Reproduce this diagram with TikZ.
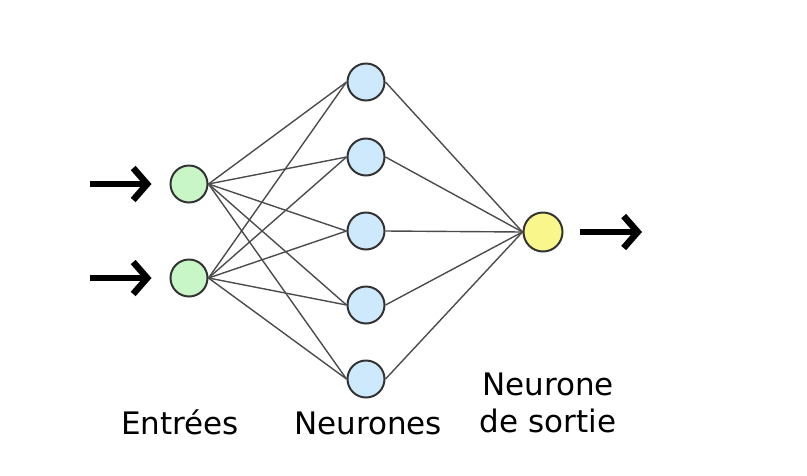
\documentclass[tikz,border=0pt]{standalone}
\usepackage{fontspec}
\setmainfont{DejaVu Sans}
\usepackage{xcolor}
\usetikzlibrary{arrows.meta}

\definecolor{ingreen}{HTML}{C8F6C6}
\definecolor{hidblue}{HTML}{CDE9FB}
\definecolor{outyellow}{HTML}{F9F78C}

\begin{document}
\begin{tikzpicture}[x=1pt,y=-1pt,
  every node/.style={font=\fontsize{31}{37}\selectfont},
  neuron/.style={circle,draw=black!80,line width=2pt,minimum size=37pt,inner sep=0pt},
  link/.style={draw=black!70,line width=1.4pt},
  signal/.style={line width=6.5pt,-{Straight Barb[length=14pt,width=32pt,line width=6.5pt]}}]
  \useasboundingbox (0,0) rectangle (807,475);
  % input layer
  \node[neuron,fill=ingreen] (in1) at (189,184) {};
  \node[neuron,fill=ingreen] (in2) at (189,278) {};
  % hidden layer
  \foreach \i/\y in {1/82,2/157,3/231,4/305,5/379}
    \node[neuron,fill=hidblue] (h\i) at (366,\y) {};
  % output neuron
  \node[neuron,fill=outyellow,minimum size=39pt] (out) at (543,232) {};
  % connections
  \begin{scope}[on background layer/.try]
  \foreach \i in {1,2}
    \foreach \j in {1,...,5}
      \draw[link] (in\i.east) -- (h\j.west);
  \foreach \j in {1,...,5}
    \draw[link] (h\j.east) -- (out.west);
  \end{scope}
  % signals in and out
  \coordinate (src1) at (90,184);
  \coordinate (src2) at (90,278);
  \coordinate (sink) at (642,232);
  \draw[signal,shorten >=18pt] (src1) -- (in1);
  \draw[signal,shorten >=18pt] (src2) -- (in2);
  \draw[signal,shorten <=16pt] (out) -- (sink);
  % labels
  \node[anchor=base] (lin) at (180,434) {Entrées};
  \node[anchor=base] (lhid) at (368,434) {Neurones};
  \node[anchor=base] (lout1) at (548,395) {Neurone};
  \node[anchor=base] (lout2) at (548,432) {de sortie};
\end{tikzpicture}
\end{document}
